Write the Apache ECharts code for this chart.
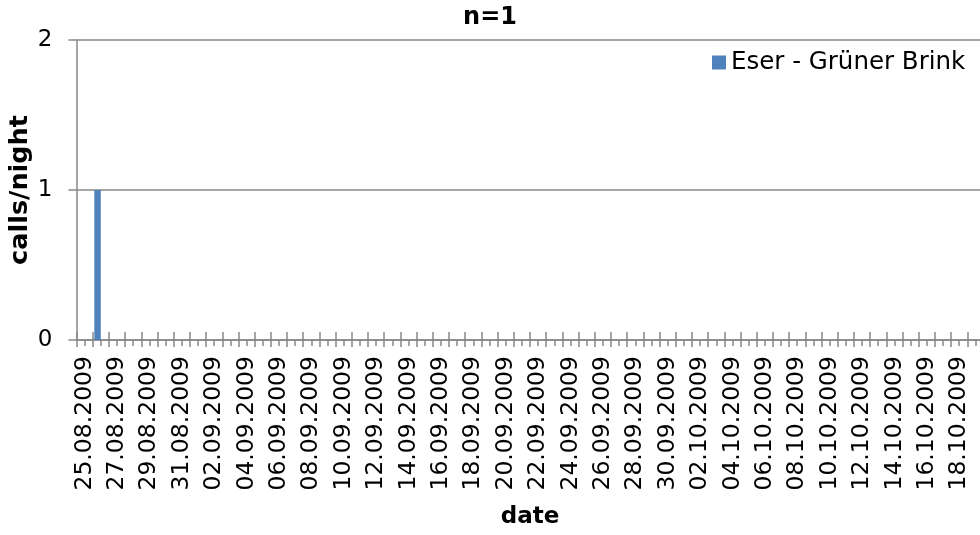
<!DOCTYPE html>
<html>
<head>
<meta charset="utf-8">
<script src="https://cdn.jsdelivr.net/npm/echarts@6/dist/echarts.min.js"></script>
<style>
html,body{margin:0;padding:0;background:#fff;}
#chart{width:980px;height:535px;}
</style>
</head>
<body>
<div id="chart"></div>
<script>
const titleText = 'n=1';
const seriesName = 'Eser - Grüner Brink';
const xAxisName = 'date';
const yAxisName = 'calls/night';
const dates = [
 '25.08.2009','26.08.2009','27.08.2009','28.08.2009','29.08.2009','30.08.2009','31.08.2009',
 '01.09.2009','02.09.2009','03.09.2009','04.09.2009','05.09.2009','06.09.2009','07.09.2009',
 '08.09.2009','09.09.2009','10.09.2009','11.09.2009','12.09.2009','13.09.2009','14.09.2009',
 '15.09.2009','16.09.2009','17.09.2009','18.09.2009','19.09.2009','20.09.2009','21.09.2009',
 '22.09.2009','23.09.2009','24.09.2009','25.09.2009','26.09.2009','27.09.2009','28.09.2009',
 '29.09.2009','30.09.2009','01.10.2009','02.10.2009','03.10.2009','04.10.2009','05.10.2009',
 '06.10.2009','07.10.2009','08.10.2009','09.10.2009','10.10.2009','11.10.2009','12.10.2009',
 '13.10.2009','14.10.2009','15.10.2009','16.10.2009','17.10.2009','18.10.2009','19.10.2009'
];
const callsPerNight = [
 0,1,0,0,0,0,0,
 0,0,0,0,0,0,0,
 0,0,0,0,0,0,0,
 0,0,0,0,0,0,0,
 0,0,0,0,0,0,0,
 0,0,0,0,0,0,0,
 0,0,0,0,0,0,0,
 0,0,0,0,0,0,0
];
const emptySeries = [];
const yMin = 0, yMax = 2, yInterval = 1;

const FONT = 'DejaVu Sans';
const GRAY = '#888888';

const chart = echarts.init(document.getElementById('chart'), null, {renderer: 'canvas'});
const baseX = {
  type: 'category', data: dates, position: 'bottom', gridIndex: 0,
  axisLine: {show: false}, axisLabel: {show: false}, splitLine: {show: false}
};
chart.setOption({
  animation: false,
  backgroundColor: '#fff',
  textStyle: {fontFamily: FONT, color: '#000'},
  title: {
    text: titleText, left: 'center', top: 1,
    textStyle: {fontFamily: FONT, fontWeight: 'bold', fontSize: 24, color: '#000'}
  },
  legend: {
    data: [seriesName], left: 712, top: 50, icon: 'rect', padding: 0,
    itemWidth: 14, itemHeight: 14, itemGap: 7,
    textStyle: {fontFamily: FONT, fontSize: 24.5, color: '#000', padding: [0,0,0,0]}
  },
  grid: {left: 76.5, top: 40, width: 907, height: 300, containLabel: false, outerBoundsMode: 'none'},
  xAxis: [
    {
      type: 'category', data: dates, position: 'bottom',
      name: xAxisName, nameLocation: 'middle', nameGap: 166, nameMoveOverlap: false,
      nameTextStyle: {fontFamily: FONT, fontWeight: 'bold', fontSize: 23, color: '#000'},
      axisLine: {show: true, lineStyle: {color: GRAY, width: 1.5}},
      axisTick: {show: true, inside: false, length: 7, interval: 0, alignWithLabel: false, lineStyle: {color: GRAY, width: 1.5}},
      axisLabel: {show: true, interval: 1, rotate: 90, margin: 16, hideOverlap: false,
        align: 'right', verticalAlign: 'middle', lineHeight: 20,
        fontFamily: FONT, fontSize: 23.5, color: '#000'},
      splitLine: {show: false}
    },
    Object.assign({}, baseX, {
      axisTick: {show: true, inside: true, length: 8, interval: 0, alignWithLabel: false, lineStyle: {color: GRAY, width: 1.5}}
    }),
    Object.assign({}, baseX, {
      axisTick: {show: true, inside: false, length: 6, interval: 0, alignWithLabel: true, lineStyle: {color: GRAY, width: 1.5}}
    })
  ],
  yAxis: {
    type: 'value', min: yMin, max: yMax, interval: yInterval,
    name: yAxisName, nameLocation: 'middle', nameGap: 43, nameRotate: 90, nameMoveOverlap: false,
    nameTextStyle: {fontFamily: FONT, fontWeight: 'bold', fontSize: 25.5, color: '#000'},
    axisLine: {show: true, lineStyle: {color: GRAY, width: 1.5}},
    axisTick: {show: true, inside: false, length: 8, lineStyle: {color: GRAY, width: 1.5}},
    axisLabel: {margin: 24, fontFamily: FONT, fontSize: 23, color: '#000'},
    splitLine: {show: true, lineStyle: {color: GRAY, width: 1.5}}
  },
  series: [
    {
      name: seriesName, type: 'bar', xAxisIndex: 0, data: callsPerNight,
      barWidth: '40%', barGap: '0%',
      itemStyle: {color: '#4F81BD'}
    },
    {
      name: 'hidden', type: 'bar', xAxisIndex: 0, data: emptySeries,
      barWidth: '40%', barGap: '0%',
      itemStyle: {color: '#C0504D'}
    }
  ]
});
</script>
</body>
</html>
